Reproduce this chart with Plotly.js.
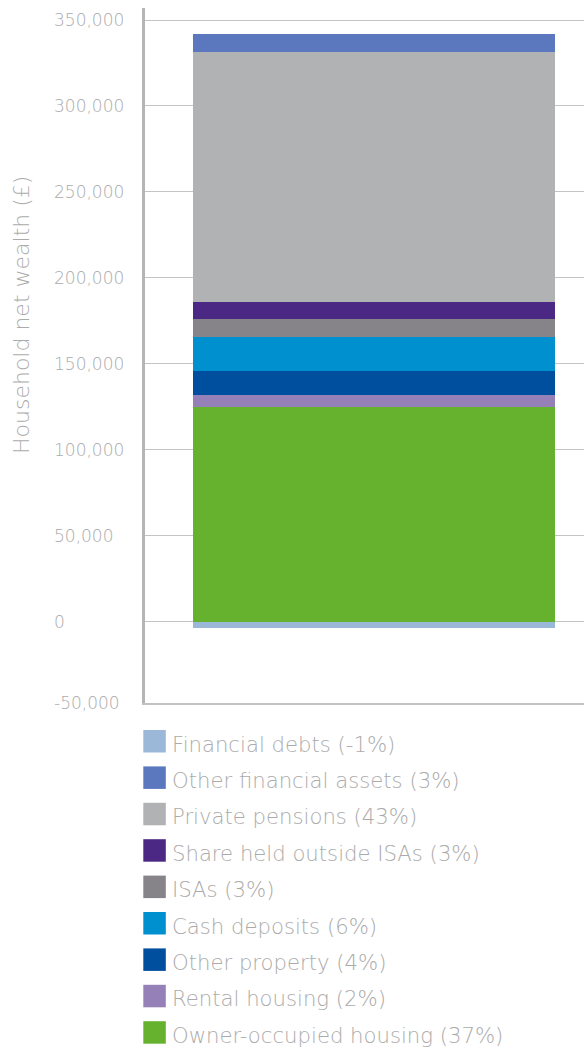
<!DOCTYPE html>
<html>
<head>
<meta charset="utf-8">
<script src="https://cdn.plot.ly/plotly-3.0.1.min.js"></script>
<style>
  html, body { margin: 0; padding: 0; background: #ffffff; }
  #chart { width: 584px; height: 1050px; }
</style>
</head>
<body>
<div id="chart"></div>
<script>
// ---- Data ----
var category = ['Household'];
var seriesNames = [
  'Owner-occupied housing (37%)',
  'Rental housing (2%)',
  'Other property (4%)',
  'Cash deposits (6%)',
  'ISAs (3%)',
  'Share held outside ISAs (3%)',
  'Private pensions (43%)',
  'Other financial assets (3%)',
  'Financial debts (-1%)'
];
var seriesValues = [125000, 6700, 14000, 19800, 10500, 9900, 145600, 10300, -3700];
var seriesColors = ['#66B22F', '#9580B7', '#004F9E', '#0090D0', '#868489', '#4B2884', '#B1B2B4', '#5B78BE', '#9BB8D8'];
var legendOrder = [8, 7, 6, 5, 4, 3, 2, 1, 0];
var tickVals = [-50000, 0, 50000, 100000, 150000, 200000, 250000, 300000, 350000];
var tickText = ['-50,000', '0', '50,000', '100,000', '150,000', '200,000', '250,000', '300,000', '350,000'];
var yTitle = 'Household net wealth (£)';

// ---- Layout constants ----
var W = 584, H = 1050;
var M = { l: 40, r: 0, t: 8, b: 347 };
var plotW = W - M.l - M.r, plotH = H - M.t - M.b;
var yRange = [-47300, 357000];
var xRange = [-0.6326, 0.58];
var textColor = '#ababab';
var FONT = '"DejaVu Sans", sans-serif';
var FW = 200;

function px2x(px) { return (px - M.l) / plotW; }
function px2y(py) { return (H - M.b - py) / plotH; }

var traces = seriesNames.map(function (name, i) {
  return {
    type: 'bar',
    name: name,
    x: category,
    y: [seriesValues[i]],
    width: 1,
    marker: { color: seriesColors[i], line: { width: 0 } },
    showlegend: false,
    hoverinfo: 'name+y'
  };
});

// label positions, clamped to the visible range like the original chart
var labelVals = tickVals.map(function (v) { return Math.max(v, yRange[0]); });

// custom legend (large swatches)
var shapes = [];
var annotations = [];
legendOrder.forEach(function (idx, k) {
  var top = 730 + k * 36.4;
  shapes.push({
    type: 'rect', xref: 'paper', yref: 'paper',
    x0: px2x(143.3), x1: px2x(165.8), y0: px2y(top), y1: px2y(top + 22.5),
    fillcolor: seriesColors[idx], line: { width: 0 }, layer: 'above'
  });
  annotations.push({
    xref: 'paper', yref: 'paper', x: px2x(170), y: px2y(top + 14),
    xanchor: 'left', yanchor: 'middle', showarrow: false,
    text: seriesNames[idx],
    font: { family: FONT, size: 21.2, color: textColor, weight: FW }
  });
});
annotations.push({
  xref: 'paper', yref: 'paper', x: px2x(21), y: px2y(315),
  xanchor: 'center', yanchor: 'middle', showarrow: false, textangle: -90,
  text: yTitle,
  font: { family: FONT, size: 22, color: textColor, weight: FW }
});

var layout = {
  width: W, height: H,
  margin: M,
  paper_bgcolor: '#ffffff', plot_bgcolor: '#ffffff',
  barmode: 'relative',
  bargap: 0,
  showlegend: false,
  font: { family: FONT, color: textColor, weight: FW },
  xaxis: {
    domain: [px2x(145), 1],
    range: xRange,
    showticklabels: false, ticks: '', showgrid: false, zeroline: false,
    showline: true, linecolor: '#c2c2c2', linewidth: 2, fixedrange: true
  },
  yaxis: {
    range: yRange,
    tickvals: tickVals, showticklabels: false, ticks: '',
    showgrid: true, gridcolor: '#c4c4c4', gridwidth: 1,
    zeroline: false,
    showline: true, linecolor: '#b5b5b5', linewidth: 3, fixedrange: true
  },
  yaxis2: {
    overlaying: 'y', anchor: 'free', side: 'right', position: px2x(53),
    range: yRange,
    tickvals: labelVals, ticktext: tickText,
    ticks: '', showgrid: false, zeroline: false, showline: false,
    tickfont: { family: FONT, size: 17, color: textColor, weight: FW },
    fixedrange: true
  },
  shapes: shapes,
  annotations: annotations
};

// dummy invisible trace so the label axis is drawn
traces.push({ type: 'scatter', x: category, y: [null], yaxis: 'y2', showlegend: false, hoverinfo: 'skip' });

Plotly.newPlot('chart', traces, layout, { displayModeBar: false, staticPlot: true });
</script>
</body>
</html>
